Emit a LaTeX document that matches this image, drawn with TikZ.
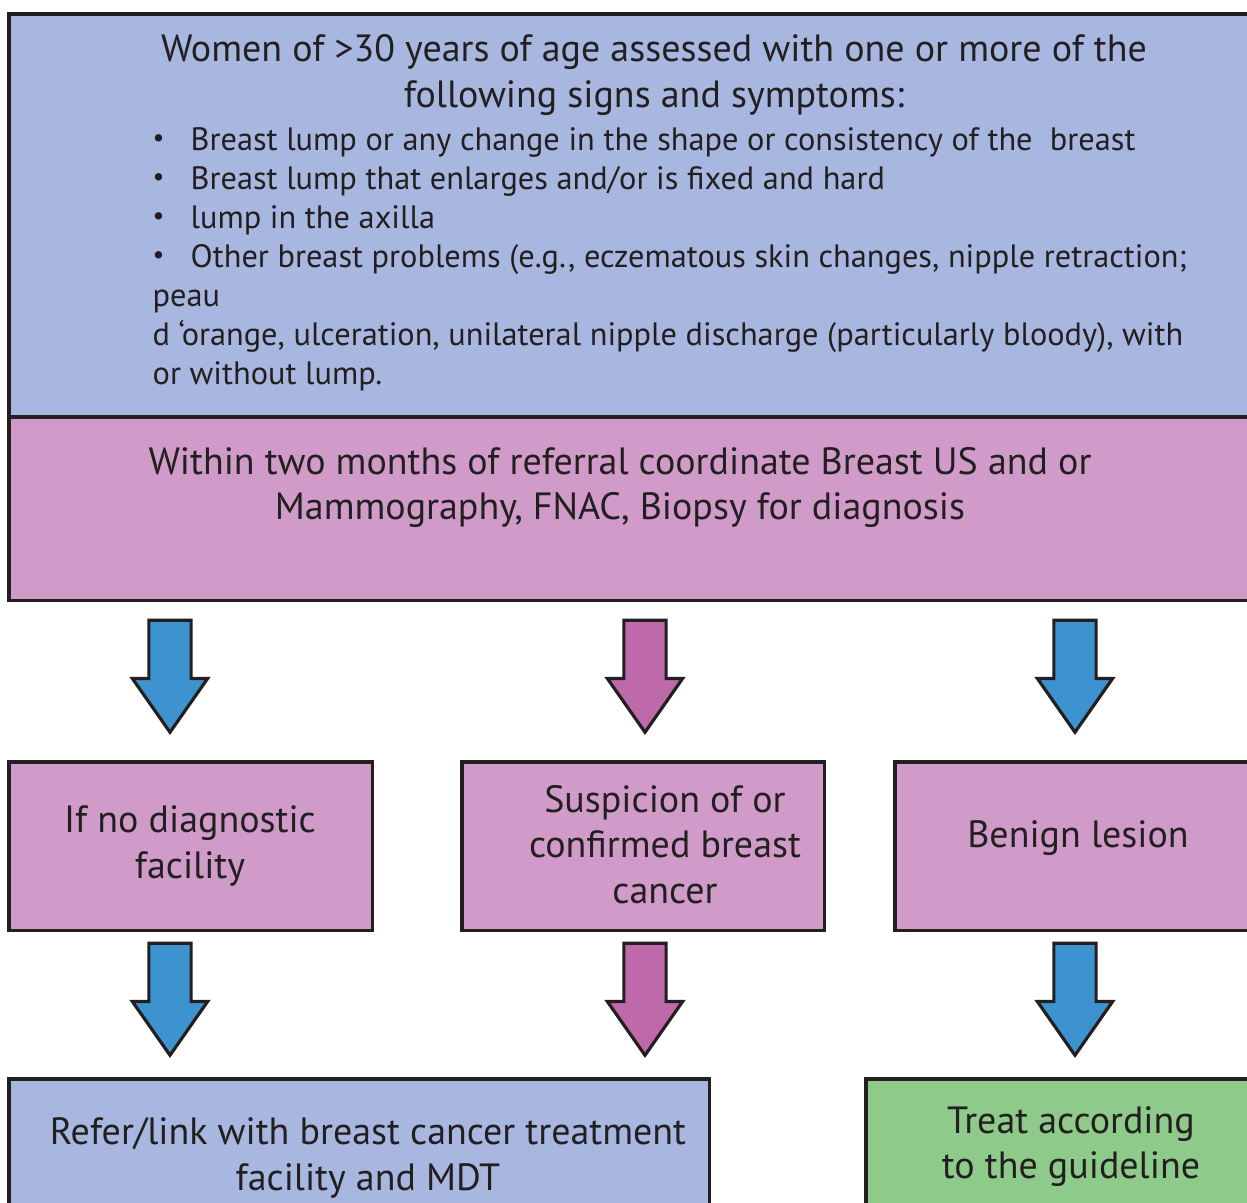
\documentclass[tikz,border=0pt]{standalone}
\usepackage{fontspec}
\setmainfont{PT Sans}
\usetikzlibrary{shapes.arrows}
\definecolor{boxblue}{HTML}{A7B7DF}
\definecolor{boxpink}{HTML}{D09BC8}
\definecolor{boxgreen}{HTML}{8ECB8B}
\definecolor{arrblue}{HTML}{3D93D0}
\definecolor{arrpink}{HTML}{BE69AA}
\definecolor{ink}{HTML}{231F20}
\newcommand\listbullet{\makebox[3.8mm][l]{\raisebox{0.25ex}{\fontsize{7.5}{8}\selectfont\textbullet}}}
\tikzset{
  box/.style={draw=ink, line width=0.9pt, rectangle, inner sep=0pt, outer sep=0pt, anchor=north west},
  bigtext/.style={font=\fontsize{10.8}{12.8}\selectfont, text=ink, align=center, inner sep=0pt, anchor=base},
  listtext/.style={font=\fontsize{9.2}{11.06}\selectfont, text=ink, align=left, inner sep=0pt, anchor=base west},
  blockarrow/.style={single arrow, draw=ink, line width=0.9pt, rotate=-90, minimum width=0pt,
    inner xsep=0pt, inner ysep=0.195cm, single arrow head extend=0.165cm, single arrow tip angle=70,
    minimum height=1.12cm, anchor=tip}
}
\begin{document}
\begin{tikzpicture}[x=0.01cm, y=-0.01cm]
\useasboundingbox (0,0) rectangle (1247,1203);
% the two wide boxes at the top
\node[box, fill=boxblue, minimum width=12.53cm, minimum height=4.03cm] (symptoms) at (9,14) {};
\node[box, fill=boxpink, minimum width=12.53cm, minimum height=1.83cm] (imaging) at (9,417) {};
% the three outcome boxes
\node[box, fill=boxpink, minimum width=3.63cm, minimum height=1.68cm] (nofac) at (9,762) {};
\node[box, fill=boxpink, minimum width=3.62cm, minimum height=1.68cm] (suspect) at (462,762) {};
\node[box, fill=boxpink, minimum width=3.67cm, minimum height=1.68cm] (benign) at (895,762) {};
% the two final boxes
\node[box, fill=boxblue, minimum width=7.00cm, minimum height=1.45cm] (refer) at (9,1079) {};
\node[box, fill=boxgreen, minimum width=3.96cm, minimum height=1.45cm] (treat) at (866,1079) {};
% texts (anchored on the baseline of their last line)
\node[bigtext] (symhead) at (654,107) {Women of >30 years of age assessed with one or more of the\\following signs and symptoms:};
\node[listtext] (symlist) at (152,384) {\listbullet Breast lump or any change in the shape or consistency of the\ \ breast\\
\listbullet Breast lump that enlarges and/or is fixed and hard\\
\listbullet lump in the axilla\\
\listbullet Other breast problems (e.g., eczematous skin changes, nipple retraction;\\
peau\\
d ‘orange, ulceration, unilateral nipple discharge (particularly bloody), with\\
or without lump.};
\node[bigtext] (imgtext) at (620,520) {Within two months of referral coordinate Breast US and or\\Mammography, FNAC, Biopsy for diagnosis};
\node[bigtext] (nofactext) at (190,878) {If no diagnostic\\facility};
\node[bigtext] (suspecttext) at (665,903) {Suspicion of or\\confirmed breast\\cancer};
\node[bigtext] (benigntext) at (1078,847) {Benign lesion};
\node[bigtext] (refertext) at (368,1190) {Refer/link with breast cancer treatment\\facility and MDT};
\node[bigtext] (treattext) at (1071,1179) {Treat according\\to the guideline};
% block arrows
\foreach \x/\c [count=\i] in {170/arrblue, 645/arrpink, 1075/arrblue}
  \node[blockarrow, fill=\c] (down\i) at (\x,735) {};
\foreach \x/\c [count=\i] in {170/arrblue, 645/arrpink, 1075/arrblue}
  \node[blockarrow, fill=\c] (next\i) at (\x,1058) {};
\end{tikzpicture}
\end{document}
